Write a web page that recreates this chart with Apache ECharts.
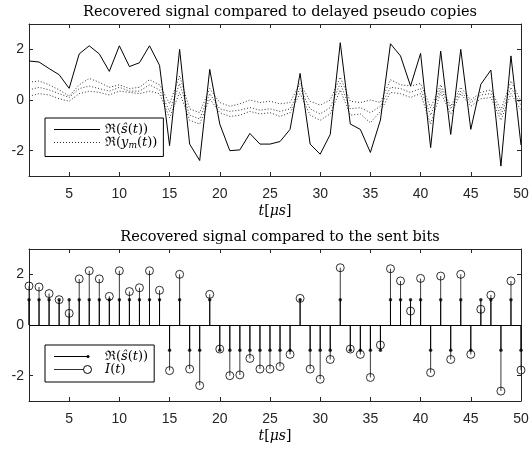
<!DOCTYPE html>
<html><head><meta charset="utf-8">
<script src="https://cdn.jsdelivr.net/npm/echarts@6/dist/echarts.min.js"></script>
<style>html,body{margin:0;padding:0;background:#fff}#c{width:532px;height:450px}</style>
</head><body><div id="c"></div>
<script>
const t = [1,2,3,4,5,6,7,8,9,10,11,12,13,14,15,16,17,18,19,20,21,22,23,24,25,26,27,28,29,30,31,32,33,34,35,36,37,38,39,40,41,42,43,44,45,46,47,48,49,50];
const recovered = [1.54,1.50,1.24,1.00,0.46,1.82,2.14,1.82,1.13,2.14,1.32,1.47,2.14,1.37,-1.80,2.00,-1.74,-2.39,1.21,-0.95,-2.00,-1.97,-1.32,-1.74,-1.74,-1.64,-1.16,1.05,-1.74,-2.14,-1.36,2.26,-0.95,-1.16,-2.07,-0.79,2.22,1.74,0.55,1.84,-1.88,1.93,-1.36,2.00,-1.16,0.62,1.18,-2.61,1.74,-1.78];
const bits = [1,1,1,1,1,1,1,1,1,1,1,1,1,1,-1,1,-1,-1,1,-1,-1,-1,-1,-1,-1,-1,-1,1,-1,-1,-1,1,-1,-1,-1,-1,1,1,1,1,-1,1,-1,1,-1,1,1,-1,1,-1];
const pseudo1 = [0.7,0.75,0.6,0.4,0.15,0.6,0.85,0.7,0.5,0.6,0.45,0.5,0.8,0.6,-0.15,0.95,-0.35,-0.5,0.45,-0.1,-0.25,-0.15,0.0,-0.1,-0.05,-0.15,-0.1,0.65,-0.05,-0.2,0.0,0.9,-0.05,-0.1,0.0,-0.1,0.8,0.6,0.55,0.65,-0.3,0.6,-0.25,0.5,0.0,0.3,0.4,-0.4,0.75,-0.05];
const pseudo2 = [0.4,0.5,0.4,0.25,0.1,0.45,0.55,0.45,0.35,0.5,0.35,0.35,0.6,0.4,-0.45,0.65,-0.6,-0.75,0.25,-0.35,-0.45,-0.4,-0.3,-0.4,-0.35,-0.45,-0.35,0.45,-0.35,-0.55,-0.3,0.65,-0.35,-0.3,-0.5,-0.25,0.5,0.45,0.3,0.45,-0.6,0.45,-0.35,0.35,-0.1,0.2,0.25,-0.6,0.5,-0.2];
const pseudo3 = [0.15,0.25,0.2,0.05,-0.05,0.25,0.35,0.3,0.2,0.35,0.3,0.25,0.35,0.25,-0.7,0.3,-0.8,-0.95,0.05,-0.5,-0.65,-0.6,-0.45,-0.55,-0.5,-0.65,-0.5,0.25,-0.6,-0.8,-0.55,0.4,-0.6,-0.55,-0.9,-0.45,0.3,0.25,0.1,0.25,-0.95,0.3,-0.55,0.25,-0.25,0.05,0.1,-0.8,0.25,-0.4];
const xTicks = [5,10,15,20,25,30,35,40,45,50];
const yTicks = [-2,0,2];
const titles = ['Recovered signal compared to delayed pseudo copies','Recovered signal compared to the sent bits'];
const nameS = 'ℜ(ŝ(t))', nameY = 'ℜ(y_m(t))', nameI = 'I(t)';

const pairs = arr => arr.map((v, i) => [t[i], v]);
const AX = '#262626';
const SERIF = 'DejaVu Serif';
const svgIcon = s => 'image://data:image/svg+xml;charset=utf-8,' + encodeURIComponent("<svg xmlns='http://www.w3.org/2000/svg' width='46' height='10' viewBox='0 0 46 10'>" + s + "</svg>");
const iconSolid = svgIcon("<line x1='0' y1='5' x2='46' y2='5' stroke='black' stroke-width='1'/>");
const iconDot = svgIcon("<line x1='0' y1='5' x2='46' y2='5' stroke='#333' stroke-width='1' stroke-dasharray='1,2'/>");
const iconStemDot = svgIcon("<line x1='0' y1='5' x2='34' y2='5' stroke='black' stroke-width='1'/><circle cx='34' cy='5' r='1.5' fill='black'/>");
const iconStemCircle = svgIcon("<line x1='0' y1='5' x2='29.5' y2='5' stroke='#333' stroke-width='1'/><circle cx='33.5' cy='5' r='4' fill='none' stroke='black' stroke-width='1'/>");

const rich = {
  r: {fontFamily: SERIF, fontSize: 13, lineHeight: 16, color: '#000'},
  i: {fontFamily: SERIF, fontSize: 13, fontStyle: 'italic', lineHeight: 16, color: '#000'},
  sub: {fontFamily: SERIF, fontSize: 9, fontStyle: 'italic', lineHeight: 9, verticalAlign: 'bottom', color: '#000'}
};
const fmt = name => {
  if (name === nameS) return '{r|ℜ(}{i|ŝ}{r|(}{i|t}{r|))}';
  if (name === nameY) return '{r|ℜ(}{i|y}{sub|m}{r|(}{i|t}{r|))}';
  if (name === nameI) return '{i|I}{r|(}{i|t}{r|)}';
  return name;
};

function xAx(grid, pos) {
  const main = pos === 'bottom';
  return {
    type: 'value', gridIndex: grid, position: pos, min: 1, max: 50,
    axisLine: {show: true, onZero: false, lineStyle: {color: AX, width: 1}},
    axisTick: {show: true, inside: true, length: 4, customValues: xTicks, lineStyle: {color: AX}},
    axisLabel: {show: main, customValues: xTicks, margin: 11, color: AX, fontFamily: 'Liberation Sans', fontSize: 14},
    splitLine: {show: false},
    name: main ? '{i|t}{r|[}{i|μs}{r|]}' : '',
    nameLocation: 'middle', nameGap: 28,
    nameTextStyle: {rich: {
      r: {fontFamily: SERIF, fontSize: 14, color: '#000'},
      i: {fontFamily: SERIF, fontSize: 14, fontStyle: 'italic', color: '#000'}
    }}
  };
}
function yAx(grid, pos) {
  const main = pos === 'left';
  return {
    type: 'value', gridIndex: grid, position: pos, min: -3, max: 3,
    axisLine: {show: true, onZero: false, lineStyle: {color: AX, width: 1}},
    axisTick: {show: true, inside: true, length: 4, customValues: yTicks, lineStyle: {color: AX}},
    axisLabel: {show: main, customValues: yTicks, margin: 5, color: AX, fontFamily: 'Liberation Sans', fontSize: 14},
    splitLine: {show: false}
  };
}

const chart = echarts.init(document.getElementById('c'), null, {renderer: 'canvas'});
const pseudoStyle = {color: '#333', width: 1, type: [1, 2]};
chart.setOption({
  animation: false,
  backgroundColor: '#fff',
  title: [
    {text: titles[0], left: 275, top: 0, textAlign: 'center', textStyle: {fontFamily: SERIF, fontSize: 14.5, fontWeight: 'normal', color: '#000'}},
    {text: titles[1], left: 275, top: 225, textAlign: 'center', textStyle: {fontFamily: SERIF, fontSize: 14.5, fontWeight: 'normal', color: '#000'}}
  ],
  grid: [
    {left: 29, right: 11, top: 24, height: 152},
    {left: 29, right: 11, top: 249, height: 152}
  ],
  xAxis: [xAx(0, 'bottom'), xAx(0, 'top'), xAx(1, 'bottom'), xAx(1, 'top')],
  yAxis: [yAx(0, 'left'), yAx(0, 'right'), yAx(1, 'left'), yAx(1, 'right')],
  legend: [
    {data: [{name: nameS, icon: iconSolid}, {name: nameY, icon: iconDot}],
     left: 45, top: 118, orient: 'vertical', itemWidth: 46, itemHeight: 10, itemGap: 0,
     padding: [5, 6, 6, 9], borderColor: '#000', borderWidth: 1, backgroundColor: '#fff',
     selectedMode: false, formatter: fmt, textStyle: {rich: rich}},
    {data: [{name: nameS + ' ', icon: iconStemDot}, {name: nameI, icon: iconStemCircle}],
     left: 45, top: 345, orient: 'vertical', itemWidth: 46, itemHeight: 10, itemGap: 0,
     padding: [5, 6, 6, 9], borderColor: '#000', borderWidth: 1, backgroundColor: '#fff',
     selectedMode: false, formatter: n => fmt(n.trim()), textStyle: {rich: rich}}
  ],
  series: [
    {type: 'line', name: nameY, xAxisIndex: 1, yAxisIndex: 1, data: pairs(pseudo1), symbol: 'none', lineStyle: pseudoStyle, z: 2},
    {type: 'line', name: nameY, xAxisIndex: 1, yAxisIndex: 1, data: pairs(pseudo2), symbol: 'none', lineStyle: pseudoStyle, z: 2},
    {type: 'line', name: nameY, xAxisIndex: 1, yAxisIndex: 1, data: pairs(pseudo3), symbol: 'none', lineStyle: pseudoStyle, z: 2},
    {type: 'line', name: nameS, xAxisIndex: 0, yAxisIndex: 0, data: pairs(recovered), symbol: 'none', lineStyle: {color: '#000', width: 1}, z: 3},

    {type: 'bar', name: nameI, xAxisIndex: 2, yAxisIndex: 2, data: pairs(recovered), barWidth: 1, barGap: '-100%', itemStyle: {color: '#3a3a3a'}, z: 2},
    {type: 'bar', name: nameS + ' ', xAxisIndex: 2, yAxisIndex: 2, data: pairs(bits), barWidth: 1, barGap: '-100%', itemStyle: {color: '#000'}, z: 3,
     markLine: {silent: true, symbol: 'none', label: {show: false}, lineStyle: {color: '#000', type: 'solid', width: 1}, data: [{yAxis: 0}]}},
    {type: 'scatter', name: nameS + ' ', xAxisIndex: 2, yAxisIndex: 2, data: pairs(bits), symbol: 'circle', symbolSize: 3.5, itemStyle: {color: '#000'}, z: 4},
    {type: 'scatter', name: nameI, xAxisIndex: 3, yAxisIndex: 3, data: pairs(recovered), symbol: 'circle', symbolSize: 8, itemStyle: {color: 'rgba(0,0,0,0)', borderColor: '#000', borderWidth: 1}, z: 5}
  ]
});
</script></body></html>
